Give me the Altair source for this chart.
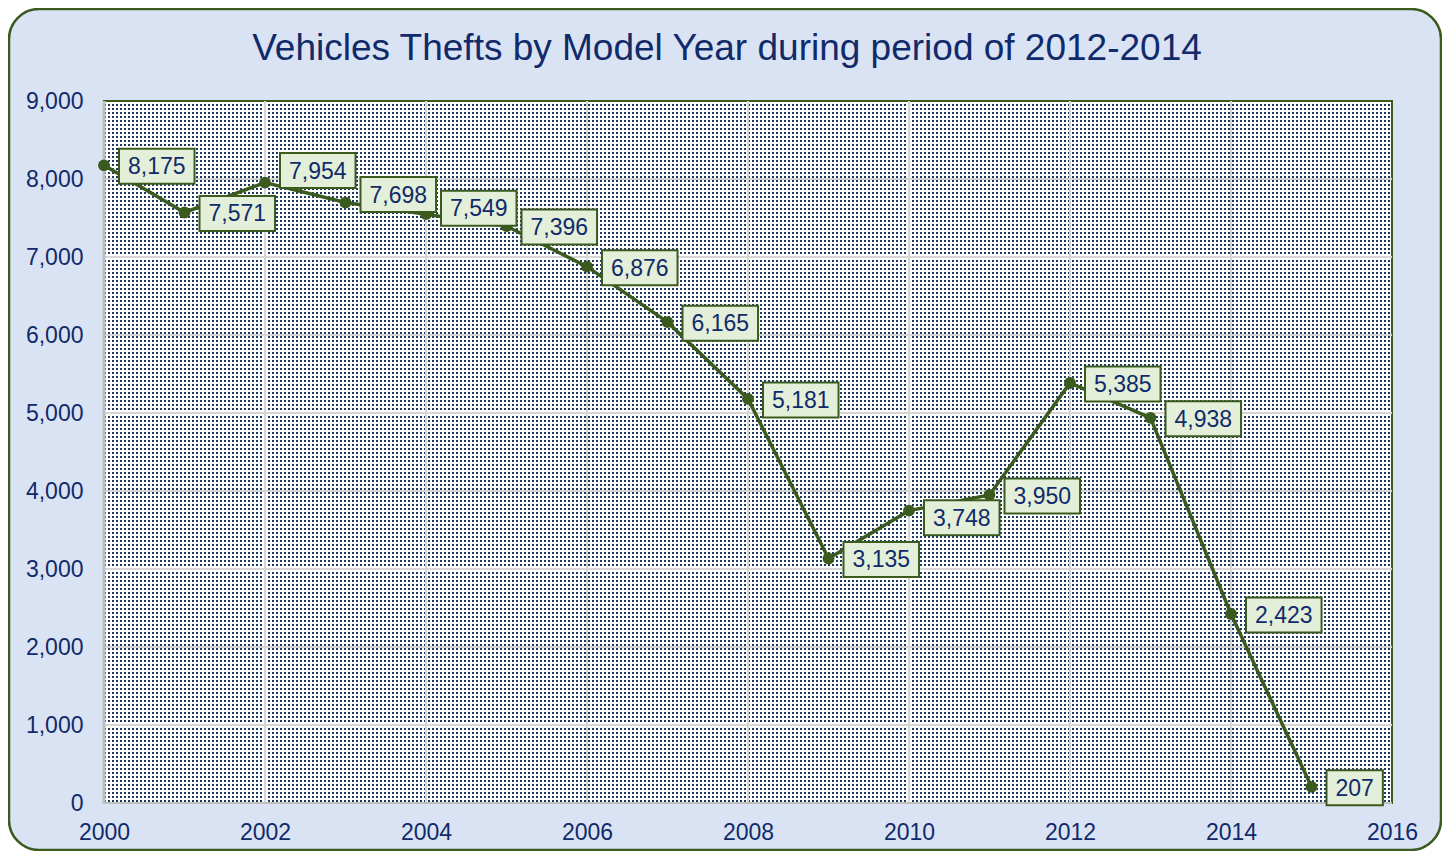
import altair as alt
import pandas as pd

# ---- data ----
years = [2000, 2001, 2002, 2003, 2004, 2005, 2006, 2007,
         2008, 2009, 2010, 2011, 2012, 2013, 2014, 2015]
thefts = [8175, 7571, 7954, 7698, 7549, 7396, 6876, 6165,
          5181, 3135, 3748, 3950, 5385, 4938, 2423, 207]
y_ticks = [0, 1000, 2000, 3000, 4000, 5000, 6000, 7000, 8000, 9000]
x_ticks = [2000, 2002, 2004, 2006, 2008, 2010, 2012, 2014, 2016]
title_text = ["Vehicles Thefts by Model Year during period of 2012-2014"]

# ---- layout / style ----
W, H = 1288, 702
XMIN, XMAX = 2000, 2016
YMIN, YMAX = 0, 9000
PPX = W / (XMAX - XMIN)
PPY = H / (YMAX - YMIN)
FONT = "Liberation Sans"
FS = 23
NAVY = "#102a6a"
GREEN = "#3a5a1e"
BOXFILL = "#e3efd9"
PANEL = "#dae3f3"
DOT = "#203864"
GRID = "#d6d6d6"
AXISLINE = "#bfbfbf"
label_nudge = {2002: -12, 2003: -8, 2004: -6, 2010: 7}  # px, + = down


def text_w(s):
    return sum(0.278 * FS if c == "," else 0.556 * FS for c in s)


labels = [f"{v:,}" for v in thefts]
df = pd.DataFrame({"year": years, "thefts": thefts, "label": labels})
df["ly"] = [v - label_nudge.get(y, 1) / PPY for y, v in zip(years, thefts)]
df["bx1"] = df["year"] + 15 / PPX
df["bx2"] = [y + (15 + text_w(l) + 18) / PPX for y, l in zip(years, labels)]
df["by1"] = df["ly"] - 17.5 / PPY
df["by2"] = df["ly"] + 17.5 / PPY

hgrid = pd.DataFrame({"v": y_ticks[1:-1]})
vgrid = pd.DataFrame({"yr": x_ticks[1:-1]})

xs = alt.Scale(domain=[XMIN, XMAX], nice=False, zero=False)
ys = alt.Scale(domain=[YMIN, YMAX], nice=False, zero=True)
x_axis = alt.Axis(values=x_ticks, format=".0f", title=None, labelFont=FONT,
                  labelFontSize=FS, labelColor=NAVY, ticks=False, tickSize=0,
                  domain=False, grid=False, labelPadding=18, labelFlush=False,
                  labelOverlap=False, orient="bottom", zindex=1)
y_axis = alt.Axis(values=y_ticks, format=",.0f", title=None, labelFont=FONT,
                  labelFontSize=FS, labelColor=NAVY, ticks=False, tickSize=0,
                  domain=False, grid=False, labelPadding=21, orient="left",
                  zindex=1)

one = pd.DataFrame({"a": [0]})

panel = alt.Chart(one).mark_rect(
    fill=PANEL, stroke=GREEN, strokeWidth=2.5, cornerRadius=30
).encode(x=alt.value(-95), x2=alt.value(1337), y=alt.value(-92), y2=alt.value(749))

plotbg = alt.Chart(one).mark_rect(
    fill="white", stroke=GREEN, strokeWidth=2
).encode(x=alt.value(0), x2=alt.value(W), y=alt.value(0), y2=alt.value(H))

# dotted texture: dashed horizontal rules every 4 px
dots = alt.Chart(alt.sequence(0, 175, as_="k")).transform_calculate(
    dv=f"(datum.k * 4 + 2) / {PPY}"
).mark_rule(color=DOT, strokeWidth=2, strokeDash=[2, 2]).encode(
    y=alt.Y("dv:Q", scale=ys, axis=y_axis),
    x=alt.value(0), x2=alt.value(W),
)

hg = alt.Chart(hgrid).mark_rule(color=GRID, strokeWidth=2).encode(
    y=alt.Y("v:Q", scale=ys, axis=y_axis), x=alt.value(0), x2=alt.value(W)
)
vg = alt.Chart(vgrid).mark_rule(color=GRID, strokeWidth=2).encode(
    x=alt.X("yr:Q", scale=xs, axis=x_axis), y=alt.value(0), y2=alt.value(H)
)

leftline = alt.Chart(one).mark_rule(color=AXISLINE, strokeWidth=3).encode(
    x=alt.value(0), y=alt.value(0), y2=alt.value(H + 1)
)
bottomline = alt.Chart(one).mark_rule(color=AXISLINE, strokeWidth=2).encode(
    x=alt.value(0), x2=alt.value(W), y=alt.value(H)
)

line = alt.Chart(df).mark_line(color=GREEN, strokeWidth=3.5).encode(
    x=alt.X("year:Q", scale=xs, axis=x_axis),
    y=alt.Y("thefts:Q", scale=ys, axis=y_axis),
)
pts = alt.Chart(df).mark_circle(color=GREEN, size=140, opacity=1).encode(
    x=alt.X("year:Q", scale=xs, axis=x_axis),
    y=alt.Y("thefts:Q", scale=ys, axis=y_axis),
)
boxes = alt.Chart(df).mark_rect(fill=BOXFILL, stroke=GREEN, strokeWidth=2).encode(
    x=alt.X("bx1:Q", scale=xs, axis=x_axis), x2="bx2:Q",
    y=alt.Y("by1:Q", scale=ys, axis=y_axis), y2="by2:Q",
)
texts = alt.Chart(df).mark_text(
    align="left", baseline="middle", dx=24, dy=1, font=FONT, fontSize=FS, color=NAVY
).encode(
    x=alt.X("year:Q", scale=xs, axis=x_axis),
    y=alt.Y("ly:Q", scale=ys, axis=y_axis),
    text="label:N",
)

title = alt.Chart(pd.DataFrame({"t": title_text})).mark_text(
    align="center", baseline="alphabetic", font=FONT, fontSize=37, color=NAVY
).encode(text="t:N", x=alt.value(623), y=alt.value(-41))

chart = alt.layer(
    panel, plotbg, dots, hg, vg, leftline, bottomline, line, pts, boxes, texts, title
).properties(
    width=W, height=H,
    autosize=alt.AutoSizeParams(type="none"),
    padding={"left": 96, "top": 93, "right": 50, "bottom": 48},
).configure_view(stroke=None).configure(background="white")

chart.save("out.html", embed_options={"renderer": "svg", "actions": False})
